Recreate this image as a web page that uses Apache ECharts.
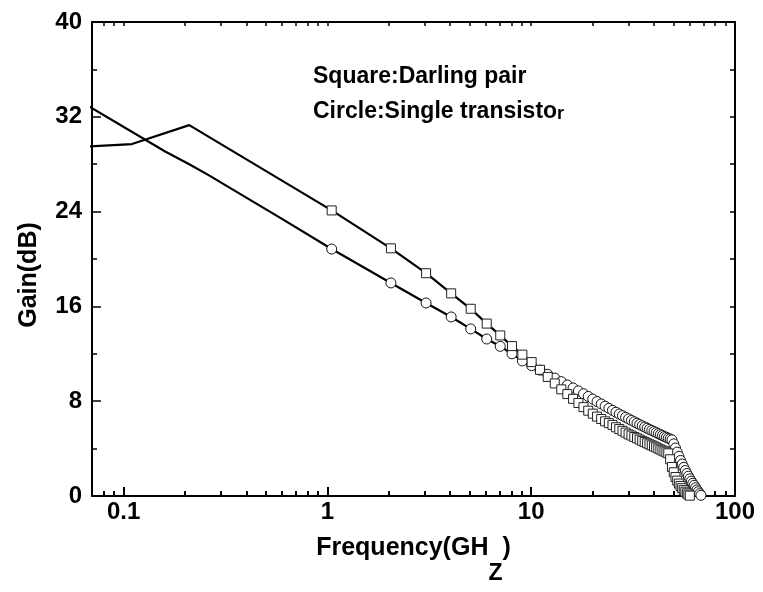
<!DOCTYPE html>
<html>
<head>
<meta charset="utf-8">
<script src="https://cdn.jsdelivr.net/npm/echarts@6/dist/echarts.min.js"></script>
<style>
    html, body { margin: 0; padding: 0; background: #fff; }
    #chart { width: 763px; height: 592px; }
</style>
</head>
<body>
<div id="chart"></div>
<script>
// frequency (GHz) of the plotted points
const markerFreq = [1.05, 2.05, 3.05, 4.05, 5.05, 6.05, 7.05, 8.05, 9.05, 10.05,
    11.05, 12.05, 13.05, 14.05, 15.05, 16.05, 17.05, 18.05, 19.05, 20.05,
    21.05, 22.05, 23.05, 24.05, 25.05, 26.05, 27.05, 28.05, 29.05, 30.05,
    31.05, 32.05, 33.05, 34.05, 35.05, 36.05, 37.05, 38.05, 39.05, 40.05,
    41.05, 42.05, 43.05, 44.05, 45.05, 46.05, 47.05, 48.05, 49.05, 50.05,
    51.05, 52.05, 53.05, 54.05, 55.05, 56.05, 57.05, 58.05, 59.05, 60.05,
    61.05, 62.05, 63.05, 64.05, 65.05, 66.05, 67.05, 68.05];

// Square: Darling pair
const squareLowFreq = [0.06, 0.11, 0.21];
const squareLowGain = [29.45, 29.7, 31.3];
const squareGain = [24.1, 20.9, 18.8, 17.1, 15.8, 14.55, 13.55, 12.65, 11.93, 11.3,
    10.65, 10.05, 9.5, 9.0, 8.6, 8.2, 7.85, 7.5, 7.2, 6.95,
    6.7, 6.5, 6.3, 6.15, 6.0, 5.8, 5.65, 5.5, 5.35, 5.2,
    5.1, 4.98, 4.87, 4.76, 4.65, 4.55, 4.45, 4.36, 4.27, 4.18,
    4.1, 4.0, 3.92, 3.84, 3.76, 3.68, 3.6, 3.1, 2.45, 2.0,
    1.6, 1.3, 1.05, 0.85, 0.66, 0.5, 0.36, 0.23, 0.12, 0.03];

// Circle: Single transistor
const circleLowFreq = [0.06, 0.16, 0.21, 0.26, 0.61];
const circleLowGain = [33.4, 29.07, 28.0, 27.1, 23.3];
const circleGain = [20.84, 17.98, 16.29, 15.11, 14.1, 13.25, 12.63, 12.0, 11.4, 11.0,
    10.62, 10.27, 9.95, 9.65, 9.37, 9.12, 8.87, 8.63, 8.4, 8.18,
    7.97, 7.77, 7.58, 7.4, 7.23, 7.07, 6.92, 6.78, 6.64, 6.51,
    6.38, 6.26, 6.14, 6.03, 5.92, 5.82, 5.72, 5.62, 5.53, 5.44,
    5.35, 5.26, 5.18, 5.1, 5.02, 4.95, 4.88, 4.81, 4.74, 4.4,
    4.05, 3.7, 3.35, 3.0, 2.7, 2.42, 2.15, 1.9, 1.67, 1.45,
    1.25, 1.07, 0.9, 0.7, 0.52, 0.36, 0.2, 0.06];

// axis ticks
const xMin = 0.07;
const xMax = 100;
const xMajorTicks = [0.1, 1, 10, 100];
const xTickLabels = ["0.1", "1", "10", "100"];
const xMinorTicks = [0.08, 0.09, 0.2, 0.3, 0.4, 0.5, 0.6, 0.7, 0.8, 0.9,
    2, 3, 4, 5, 6, 7, 8, 9, 20, 30, 40, 50, 60, 70, 80, 90];

const FONT = "Liberation Sans, Arial, Helvetica, sans-serif";
const lg = v => Math.log10(v);

const buildData = (lowFreq, lowGain, freq, gain) => {
    let data = [];
    for (let i = 0; i < lowFreq.length; i++) {
        data.push({ value: [lg(lowFreq[i]), lowGain[i]], symbol: "none" });
    }
    for (let i = 0; i < gain.length; i++) {
        data.push({ value: [lg(freq[i]), gain[i]] });
    }
    return data;
};

const tickLabel = v => {
    let i = xMajorTicks.findIndex(t => Math.abs(lg(t) - v) < 1e-6);
    return i >= 0 ? xTickLabels[i] : "";
};

const chart = echarts.init(document.getElementById("chart"));

const option = {
    animation: false,
    backgroundColor: "#fff",
    grid: { left: 92, right: 28, top: 22, bottom: 96, containLabel: false },
    xAxis: [
        {
            type: "value",
            position: "bottom",
            min: lg(xMin),
            max: lg(xMax),
            axisLine: { show: true, onZero: false, lineStyle: { color: "#000", width: 2 } },
            axisTick: {
                show: true, inside: true, length: 9,
                customValues: xMajorTicks.map(lg),
                lineStyle: { color: "#000", width: 2 }
            },
            axisLabel: {
                show: true, margin: 4,
                customValues: xMajorTicks.map(lg),
                formatter: tickLabel,
                color: "#000", fontSize: 24, fontWeight: "bold", fontFamily: FONT
            },
            splitLine: { show: false },
            name: "Frequency(GH{z|Z})",
            nameLocation: "middle",
            nameGap: 16,
            nameTextStyle: {
                color: "#000", fontSize: 25, fontWeight: "bold", fontFamily: FONT,
                rich: {
                    z: { color: "#000", fontSize: 23, fontWeight: "bold", fontFamily: FONT, padding: [50, 0, 0, 0] }
                }
            }
        },
        {
            type: "value",
            position: "bottom",
            min: lg(xMin),
            max: lg(xMax),
            axisLine: { show: false, onZero: false },
            axisTick: {
                show: true, inside: true, length: 5,
                customValues: xMinorTicks.map(lg),
                lineStyle: { color: "#000", width: 2 }
            },
            axisLabel: { show: false },
            splitLine: { show: false }
        },
        {
            type: "value",
            position: "top",
            min: lg(xMin),
            max: lg(xMax),
            axisLine: { show: true, onZero: false, lineStyle: { color: "#000", width: 2 } },
            axisTick: {
                show: true, inside: true, length: 4,
                customValues: xMajorTicks.concat(xMinorTicks).map(lg),
                lineStyle: { color: "#000", width: 1.5 }
            },
            axisLabel: { show: false },
            splitLine: { show: false }
        }
    ],
    yAxis: [
        {
            type: "value",
            position: "left",
            min: 0,
            max: 40,
            interval: 8,
            axisLine: { show: true, onZero: false, lineStyle: { color: "#000", width: 2 } },
            axisTick: { show: true, inside: true, length: 9, lineStyle: { color: "#000", width: 1.5 } },
            minorTick: { show: true, splitNumber: 2, length: 5, lineStyle: { color: "#000", width: 1.5 } },
            axisLabel: {
                margin: 10,
                color: "#000", fontSize: 24, fontWeight: "bold", fontFamily: FONT
            },
            splitLine: { show: false },
            name: "Gain(dB)",
            nameLocation: "middle",
            nameRotate: 90,
            nameGap: 50,
            nameTextStyle: {
                color: "#000", fontSize: 25, fontWeight: "bold", fontFamily: FONT,
                padding: [0, 32, 0, 0]
            }
        },
        {
            type: "value",
            position: "right",
            min: 0,
            max: 40,
            interval: 4,
            axisLine: { show: true, onZero: false, lineStyle: { color: "#000", width: 2 } },
            axisTick: { show: true, inside: true, length: 5, lineStyle: { color: "#000", width: 1.5 } },
            axisLabel: { show: false },
            splitLine: { show: false }
        }
    ],
    graphic: [
        {
            type: "text",
            left: 313,
            top: 65,
            style: {
                text: "Square:Darling pair",
                fill: "#000",
                font: "bold 23px " + FONT
            }
        },
        {
            type: "text",
            left: 313,
            top: 100,
            style: {
                text: "Circle:Single transisto{s|r}",
                fill: "#000",
                font: "bold 23px " + FONT,
                rich: {
                    s: { fill: "#000", font: "bold 18px " + FONT, verticalAlign: "bottom" }
                }
            }
        }
    ],
    series: [
        {
            name: "Circle",
            type: "line",
            xAxisIndex: 0,
            yAxisIndex: 0,
            data: buildData(circleLowFreq, circleLowGain, markerFreq, circleGain),
            symbol: "circle",
            symbolSize: 10,
            showSymbol: true,
            lineStyle: { color: "#000", width: 2.2 },
            itemStyle: { color: "#fff", borderColor: "#111", borderWidth: 1 },
            clip: true
        },
        {
            name: "Square",
            type: "line",
            xAxisIndex: 0,
            yAxisIndex: 0,
            data: buildData(squareLowFreq, squareLowGain, markerFreq, squareGain),
            symbol: "rect",
            symbolSize: 9,
            showSymbol: true,
            lineStyle: { color: "#000", width: 2.2 },
            itemStyle: { color: "#fff", borderColor: "#222", borderWidth: 1 },
            clip: true
        }
    ]
};

chart.setOption(option);
</script>
</body>
</html>
